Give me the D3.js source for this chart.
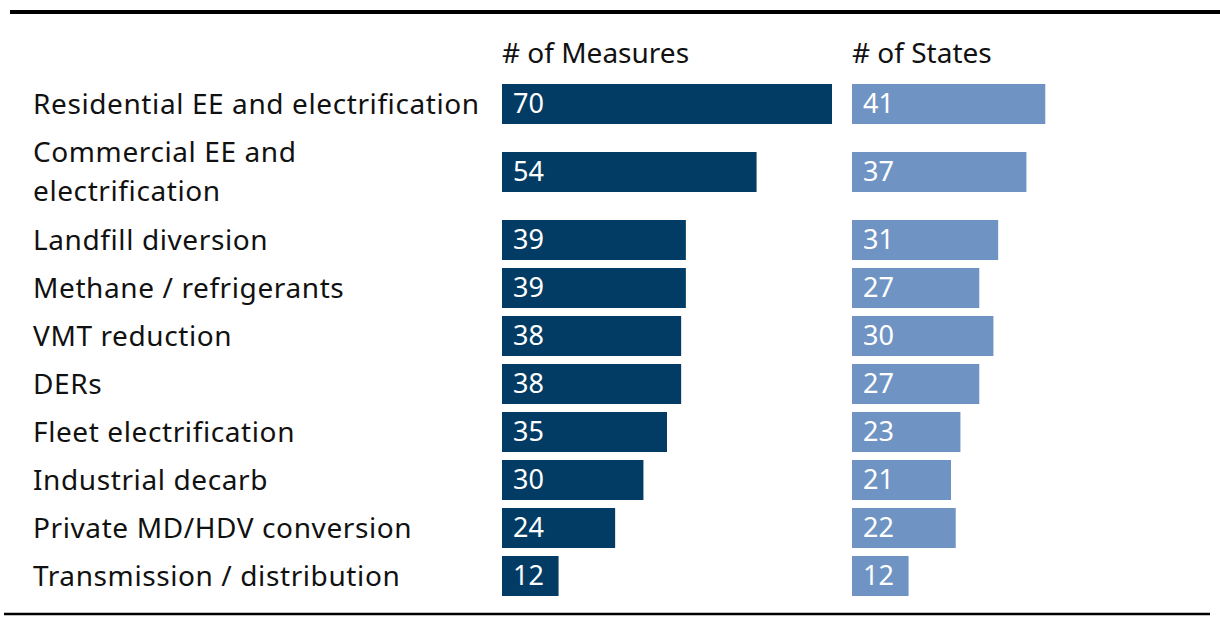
<!DOCTYPE html>
<html>
<head>
<meta charset="utf-8">
<script src="https://cdn.jsdelivr.net/npm/d3@7"></script>
<style>
  body { margin: 0; background: #fff; }
  text { font-family: "Noto Sans", "Open Sans", sans-serif; }
</style>
</head>
<body>
<svg id="chart" width="1220" height="626"></svg>
<script>
// data
var categories = [
  ["Residential EE and electrification"],
  ["Commercial EE and", "electrification"],
  ["Landfill diversion"],
  ["Methane / refrigerants"],
  ["VMT reduction"],
  ["DERs"],
  ["Fleet electrification"],
  ["Industrial decarb"],
  ["Private MD/HDV conversion"],
  ["Transmission / distribution"]
];
var measures = [70, 54, 39, 39, 38, 38, 35, 30, 24, 12];
var states   = [41, 37, 31, 27, 30, 27, 23, 21, 22, 12];
var headers  = ["# of Measures", "# of States"];

var svg = d3.select("#chart");
var fontSize = 28;
var darkBlue = "#023c64", lightBlue = "#6f94c4";

// row bands: one-line rows are 48px, the two-line row is 88px
var rows = [], y0 = 80;
categories.forEach(function(c, i) {
  var h = c.length > 1 ? 88 : 48;
  rows.push({ i: i, lines: c, top: y0, mid: y0 + h / 2, m: measures[i], s: states[i] });
  y0 += h;
});

var x = d3.scaleLinear().domain([0, 70]).range([0, 330]);
var colX = [502, 852];
var barH = 40;

// rules
svg.append("line").attr("x1", 10).attr("x2", 1220).attr("y1", 12).attr("y2", 12)
  .attr("stroke", "#000").attr("stroke-width", 4);
svg.append("line").attr("x1", 4).attr("x2", 1210).attr("y1", 614).attr("y2", 614)
  .attr("stroke", "#000").attr("stroke-width", 2.5);

// column headers
svg.selectAll(".hdr").data(headers).enter().append("text")
  .attr("class", "hdr")
  .attr("x", function(d, i) { return colX[i]; })
  .attr("y", 53).attr("dy", "0.35em")
  .attr("font-size", fontSize).attr("fill", "#111")
  .text(function(d) { return d; });

var g = svg.selectAll(".row").data(rows).enter().append("g").attr("class", "row");

// category labels
g.append("text")
  .attr("x", 33)
  .attr("font-size", fontSize).attr("fill", "#111")
  .attr("letter-spacing", 0.6)
  .each(function(d) {
    var t = d3.select(this), n = d.lines.length;
    d.lines.forEach(function(l, k) {
      t.append("tspan").attr("x", 33)
        .attr("y", d.mid + (k - (n - 1) / 2) * 39)
        .attr("dy", "0.35em").text(l);
    });
  });

var series = [
  { key: "m", col: 0, color: darkBlue },
  { key: "s", col: 1, color: lightBlue }
];
series.forEach(function(s) {
  g.append("rect")
    .attr("x", colX[s.col])
    .attr("y", function(d) { return d.mid - barH / 2; })
    .attr("width", function(d) { return x(d[s.key]); })
    .attr("height", barH)
    .attr("fill", s.color);
  g.append("text")
    .attr("x", colX[s.col] + 11)
    .attr("y", function(d) { return d.mid; })
    .attr("dy", "0.35em")
    .attr("font-size", 27).attr("fill", "#fff")
    .text(function(d) { return d[s.key]; });
});
</script>
</body>
</html>
